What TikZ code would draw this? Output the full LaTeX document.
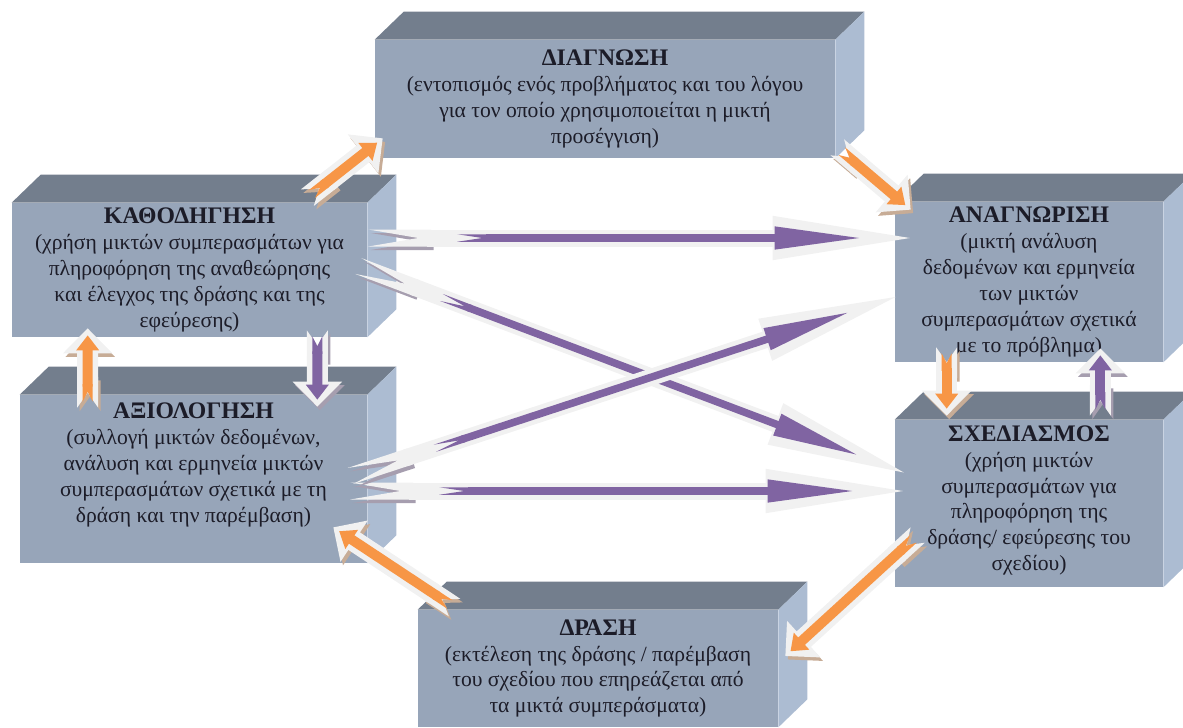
\documentclass[tikz,border=0pt]{standalone}
\usepackage{fontspec}
\setmainfont{Liberation Serif}
\usetikzlibrary{arrows.meta, calc}
\definecolor{boxfront}{RGB}{151,165,185}
\definecolor{boxtop}{RGB}{115,126,141}
\definecolor{boxside}{RGB}{172,188,210}
\definecolor{boxink}{RGB}{28,28,40}
\definecolor{arrorange}{RGB}{247,150,70}
\definecolor{arrpurple}{RGB}{128,100,162}
\definecolor{arrwhite}{RGB}{241,241,241}
\newcommand{\boxhead}[1]{{\fontsize{13.5}{14.7}\selectfont\bfseries #1}}
\tikzset{
  frontface/.style={rectangle, fill=boxfront, inner sep=0pt},
  boxtext/.style={align=center, text=boxink, font=\fontsize{12.3}{14.7}\selectfont},
  longarr/.style={draw=arrwhite, line width=0.34cm,
      {Triangle Cap[reversed, length=1cm]}-{Triangle[length=3cm, width=0.78cm]},
      preaction={draw=#1!40!gray!70, transform canvas={shift={(0.05cm,-0.07cm)}}},
      postaction={draw=#1, line width=0.15cm, shorten <=1.78cm, shorten >=1.18cm,
          {Triangle Cap[reversed, length=0.5cm]}-{Triangle[length=1.78cm, width=0.42cm]}}},
  shortarr/.style={draw=arrwhite, line width=0.42cm,
      {Triangle Cap[reversed, length=0.3cm]}-{Triangle[length=0.5cm, width=0.96cm]},
      preaction={draw=#1!40!gray!70, transform canvas={shift={(0.05cm,-0.07cm)}}},
      postaction={draw=#1, line width=0.2cm, shorten <=0.12cm, shorten >=0.14cm,
          {Triangle Cap[reversed, length=0.2cm]}-{Triangle[length=0.3cm, width=0.44cm]}}},
}

\begin{document}
\begin{tikzpicture}[x=0.02cm, y=-0.02cm]
  \useasboundingbox (0,0) rectangle (1183,727);
  \clip (0,0) rectangle (1183,727);

  % === front faces of the six blocks ===
  \node[frontface, minimum width=9.2cm, minimum height=2.36cm] (diag) at (605,99) {};
  \node[frontface, minimum width=7.1cm, minimum height=2.68cm] (kath) at (189.5,270) {};
  \node[frontface, minimum width=6.94cm, minimum height=3.36cm] (axio) at (193.5,479) {};
  \node[frontface, minimum width=5.36cm, minimum height=3.2cm] (anag) at (1029,282) {};
  \node[frontface, minimum width=5.36cm, minimum height=3.34cm] (sxed) at (1029,503.5) {};
  \node[frontface, minimum width=7.2cm, minimum height=2.34cm] (drasi) at (598,668.5) {};

  % top and side faces
  \foreach \b in {diag,kath,axio,anag,sxed,drasi}{
    \fill[boxtop] (\b.north west) -- ++(29,-28) -- ([shift={(29,-28)}]\b.north east) -- (\b.north east) -- cycle;
    \fill[boxside] (\b.north east) -- ++(29,-28) -- ([shift={(29,-28)}]\b.south east) -- (\b.south east) -- cycle;
  }

  % === texts ===
  \node[boxtext] (diagtext) at (diag) {\boxhead{ΔΙΑΓΝΩΣΗ}\\(εντοπισμός ενός προβλήματος και του λόγου\\για τον οποίο χρησιμοποιείται η μικτή\\προσέγγιση)};
  \node[boxtext] (kathtext) at (kath) {\boxhead{ΚΑΘΟΔΗΓΗΣΗ}\\(χρήση μικτών συμπερασμάτων για\\πληροφόρηση της αναθεώρησης\\και έλεγχος της δράσης και της\\εφεύρεσης)};
  \node[boxtext] (axiotext) at ($(axio)+(0,-14)$) {\boxhead{ΑΞΙΟΛΟΓΗΣΗ}\\(συλλογή μικτών δεδομένων,\\ανάλυση και ερμηνεία μικτών\\συμπερασμάτων σχετικά με τη\\δράση και την παρέμβαση)};
  \node[boxtext] (anagtext) at (anag) {\boxhead{ΑΝΑΓΝΩΡΙΣΗ}\\(μικτή ανάλυση\\δεδομένων και ερμηνεία\\των μικτών\\συμπερασμάτων σχετικά\\με το πρόβλημα)};
  \node[boxtext] (sxedtext) at ($(sxed)+(0,-3)$) {\boxhead{ΣΧΕΔΙΑΣΜΟΣ}\\(χρήση μικτών\\συμπερασμάτων για\\πληροφόρηση της\\δράσης/ εφεύρεσης του\\σχεδίου)};
  \node[boxtext] (drasitext) at (drasi) {\boxhead{ΔΡΑΣΗ}\\(εκτέλεση της δράσης / παρέμβαση\\του σχεδίου που επηρεάζεται από\\τα μικτά συμπεράσματα)};

  % === long purple arrows ===
  \draw[longarr=arrpurple] ($(kath.east)+(1,-32)$) -- ($(anag.west)+(28,-44)$);
  \draw[longarr=arrpurple] ($(kath.east)+(-9,-4)$) -- ($(sxed.west)+(21,-26.5)$);
  \draw[longarr=arrpurple] ($(axio.east)+(-17,12)$) -- ($(sxed.west)+(21,-12.5)$);
  \draw[longarr=arrpurple] ($(axio.east)+(-17,-3)$) -- ($(anag.west)+(13,11)$);

  % === short arrows round the cycle ===
  \draw[shortarr=arrorange] ($(kath.north east)+(-60,-5)$) -- ($(diag.south west)+(8,-20)$);
  \draw[shortarr=arrorange] ($(diag.south east)+(2,-11)$) -- ($(anag.north west)+(16,8)$);
  \draw[shortarr=arrorange] ($(anag.south west)+(52,-15)$) -- ($(sxed.north west)+(52,-4)$);
  \draw[shortarr=arrpurple] ($(sxed.north east)+(-63,-4)$) -- ($(anag.south east)+(-63,-14)$);
  \draw[shortarr=arrorange] ($(sxed.west)+(23,31.5)$) -- ($(drasi.east)+(7,-12.5)$);
  \draw[shortarr=arrorange] ($(drasi.north west)+(37,-2)$) -- ($(axio.south east)+(-34,-36)$);
  \draw[shortarr=arrorange] ($(axio.north west)+(68,13)$) -- ($(kath.south west)+(76,-9)$);
  \draw[shortarr=arrpurple] ($(kath.south east)+(-50,-7)$) -- ($(axio.north east)+(-50,12)$);
\end{tikzpicture}
\end{document}
